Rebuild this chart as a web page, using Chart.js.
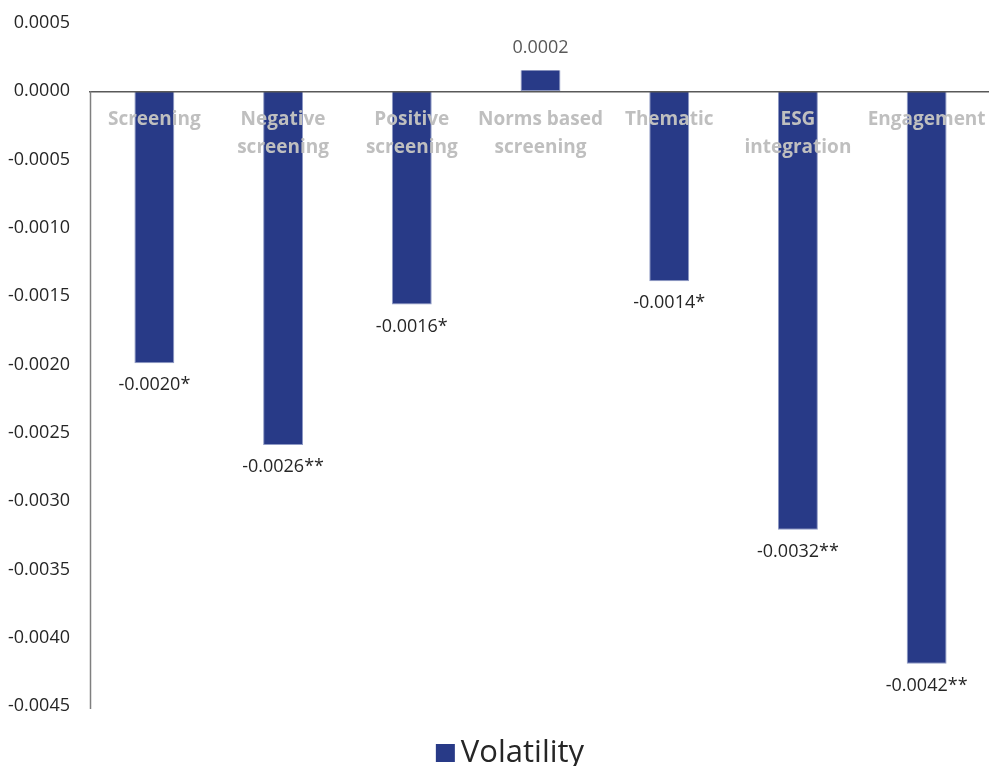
<!DOCTYPE html>
<html>
<head>
<meta charset="utf-8">
<script src="https://cdn.jsdelivr.net/npm/chart.js@4"></script>
<style>
  html, body { margin: 0; padding: 0; background: #ffffff; overflow: hidden; }
  #wrap { position: relative; width: 991px; height: 766px; }
</style>
</head>
<body>
<div id="wrap"><canvas id="chart"></canvas></div>
<script>
// Strategy categories (multi-line labels)
const categories = [
  ['Screening'],
  ['Negative', 'screening'],
  ['Positive', 'screening'],
  ['Norms based', 'screening'],
  ['Thematic'],
  ['ESG', 'integration'],
  ['Engagement']
];
// Volatility coefficient for each strategy
const volatility = [-0.00199, -0.00259, -0.00156, 0.000154, -0.00139, -0.00321, -0.00419];
// Significance markers appended to the value labels
const significance = ['*', '**', '*', '', '*', '**', '**'];
// Value axis range
const yMin = -0.0045;
const yMax = 0.0005;
const yStep = 0.0005;

const BAR_COLOR = '#283a87';
const fmt = v => (Math.abs(v) < 1e-12 ? 0 : v).toFixed(4);

// Writes each bar's value (with its significance stars) beyond the bar end
const valueLabels = {
  id: 'valueLabels',
  afterDatasetsDraw(chart) {
    const ctx = chart.ctx;
    const meta = chart.getDatasetMeta(0);
    ctx.save();
    ctx.font = '18px "Open Sans"';
    ctx.textAlign = 'center';
    ctx.textBaseline = 'middle';
    meta.data.forEach((el, i) => {
      const v = volatility[i];
      const text = fmt(v) + significance[i];
      if (v < 0) {
        ctx.fillStyle = '#262626';
        ctx.fillText(text, el.x, el.y + 22);
      } else {
        ctx.fillStyle = '#595959';
        ctx.fillText(text, el.x, el.y - 22);
      }
    });
    ctx.restore();
  }
};

// Vertical axis line running from zero down to the bottom of the range
const zeroDownAxis = {
  id: 'zeroDownAxis',
  afterDraw(chart) {
    const { ctx, chartArea, scales } = chart;
    const y0 = scales.y.getPixelForValue(0);
    const yb = scales.y.getPixelForValue(yMin);
    ctx.save();
    ctx.strokeStyle = '#7f7f7f';
    ctx.lineWidth = 1.5;
    ctx.beginPath();
    ctx.moveTo(chartArea.left + 0.5, y0);
    ctx.lineTo(chartArea.left + 0.5, yb + 3);
    ctx.stroke();
    ctx.restore();
  }
};

// Single-entry legend under the plot: colour swatch followed by the series name
const bottomLegend = {
  id: 'bottomLegend',
  afterDraw(chart) {
    const { ctx } = chart;
    const ds = chart.data.datasets[0];
    ctx.save();
    ctx.font = '31px "Open Sans"';
    const tw = ctx.measureText(ds.label).width;
    const boxW = 19, boxH = 18, gap = 6;
    const total = boxW + gap + tw;
    const x0 = 510 - total / 2;
    const baseline = 762;
    ctx.fillStyle = ds.backgroundColor;
    ctx.fillRect(x0, baseline - boxH, boxW, boxH);
    ctx.fillStyle = '#262626';
    ctx.textBaseline = 'alphabetic';
    ctx.textAlign = 'left';
    ctx.fillText(ds.label, x0 + boxW + gap, baseline);
    ctx.restore();
  }
};

new Chart(document.getElementById('chart'), {
  type: 'bar',
  data: {
    labels: categories,
    datasets: [{
      label: 'Volatility',
      data: volatility,
      backgroundColor: BAR_COLOR,
      borderColor: '#8f9ac4',
      borderWidth: { left: 1, right: 1, top: 0, bottom: 1 },
      borderSkipped: false,
      categoryPercentage: 1.0,
      barPercentage: 0.31
    }]
  },
  options: {
    responsive: true,
    maintainAspectRatio: false,
    animation: false,
    layout: { padding: { top: 23, right: 0, left: 0, bottom: 60 } },
    scales: {
      x: {
        position: { y: 0 },
        grid: { display: false, drawTicks: false },
        border: { display: true, color: '#595959', width: 1.5, z: 1 },
        ticks: {
          z: 1,
          color: '#bfbfbf',
          font: { family: 'Open Sans', size: 19, weight: 'bold', lineHeight: 1.47 },
          padding: 14,
          maxRotation: 0,
          autoSkip: false
        },
        afterFit(scale) {
          scale.paddingLeft = 0;
          scale.paddingRight = 0;
          scale.paddingTop = 0;
          scale.paddingBottom = 0;
        }
      },
      y: {
        min: yMin,
        max: yMax,
        grid: { display: false, drawTicks: false },
        border: { display: false },
        ticks: {
          stepSize: yStep,
          color: '#262626',
          font: { family: 'Open Sans', size: 18 },
          padding: 20,
          callback: v => fmt(v)
        },
        afterFit(scale) {
          scale.width = 90;
          scale.paddingTop = 0;
          scale.paddingBottom = 0;
        }
      }
    },
    plugins: {
      legend: { display: false },
      tooltip: { enabled: false }
    }
  },
  plugins: [valueLabels, zeroDownAxis, bottomLegend]
});
</script>
</body>
</html>
